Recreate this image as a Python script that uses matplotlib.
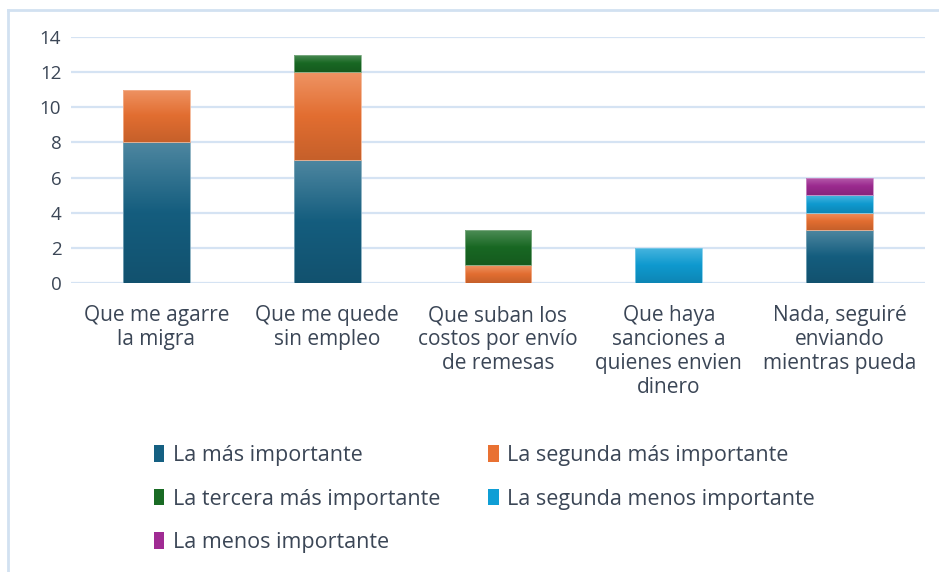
import numpy as np
import matplotlib.pyplot as plt
from matplotlib.colors import LinearSegmentedColormap, to_rgb
from matplotlib.patches import Patch
from matplotlib.lines import Line2D

plt.rcParams['font.family'] = ['Open Sans', 'DejaVu Sans']

# =========================
# data
# =========================
categories = [
    "Que me agarre\nla migra",
    "Que me quede\nsin empleo",
    "Que suban los\ncostos por envío\nde remesas",
    "Que haya\nsanciones a\nquienes envien\ndinero",
    "Nada, seguiré\nenviando\nmientras pueda",
]
series_names = [
    "La más importante",
    "La segunda más importante",
    "La tercera más importante",
    "La segunda menos importante",
    "La menos importante",
]
mas_importante = [8, 7, 0, 0, 3]
segunda_mas = [3, 5, 1, 0, 1]
tercera_mas = [0, 1, 2, 0, 0]
segunda_menos = [0, 0, 0, 2, 1]
menos_importante = [0, 0, 0, 0, 1]
yticks = [0, 2, 4, 6, 8, 10, 12, 14]

colors = ["#156082", "#E97132", "#196B24", "#0F9ED5", "#A02B93"]
TEXT = "#3B4656"


def mix(c, other, t):
    c = np.array(to_rgb(c))
    o = np.array(to_rgb(other))
    return tuple(c * (1 - t) + o * t)


def gradient_bar(ax, bar, color):
    x, y = bar.get_x(), bar.get_y()
    w, h = bar.get_width(), bar.get_height()
    if h <= 0:
        return
    cmap = LinearSegmentedColormap.from_list(
        "g", [mix(color, "black", 0.15), mix(color, "black", 0.03),
              mix(color, "white", 0.24)])
    grad = np.linspace(0, 1, 100).reshape(-1, 1)
    im = ax.imshow(grad, cmap=cmap, origin="lower", aspect="auto",
                   extent=(x, x + w, y, y + h), zorder=3)
    im.set_clip_path(bar)


# =========================
# plot
# =========================
fig = plt.figure(figsize=(9.39, 5.72), dpi=100)
ax = fig.add_axes([71 / 939, 1 - 283 / 572, 854 / 939, 246 / 572])

data = [mas_importante, segunda_mas, tercera_mas, segunda_menos, menos_importante]
x = np.arange(len(categories))
bottom = np.zeros(len(categories))
for vals, col in zip(data, colors):
    edges = [mix(col, "white", 0.45) if v > 0 else "none" for v in vals]
    bars = ax.bar(x, vals, width=0.39, bottom=bottom, color="none",
                  edgecolor=edges, linewidth=0.6, zorder=4)
    for b in bars:
        gradient_bar(ax, b, col)
    bottom += np.array(vals)

ax.set_xlim(-0.5, len(categories) - 0.5)
ax.set_ylim(0, 14)
ax.set_yticks(yticks)
ax.yaxis.grid(True, color="#D5E3F3", linewidth=1.6, zorder=0)
ax.set_axisbelow(True)
for s in ax.spines.values():
    s.set_visible(False)
ax.tick_params(axis="both", length=0, colors=TEXT)
ax.tick_params(axis="y", pad=7, labelsize=13.5)
ax.set_xticks(x)
ax.set_xticklabels(categories, fontsize=15, color=TEXT, linespacing=1.18)
ax.tick_params(axis="x", pad=16)

# legend in row order
handles = [Patch(facecolor=c, edgecolor="none") for c in colors]
order = [0, 2, 4, 1, 3]
leg = fig.legend([handles[i] for i in order], [series_names[i] for i in order],
                 loc="upper left", bbox_to_anchor=(0.143, 0.256), ncol=2,
                 frameon=False, fontsize=15.5, handlelength=0.5, handleheight=0.8,
                 handletextpad=0.4, labelspacing=1.05, columnspacing=2.2)
for t in leg.get_texts():
    t.set_color(TEXT)

# chart border (top and left visible)
fig.add_artist(Line2D([8 / 939, 1], [1 - 10 / 572, 1 - 10 / 572],
                      transform=fig.transFigure, color="#D2E1F1", linewidth=2))
fig.add_artist(Line2D([8 / 939, 8 / 939], [0, 1 - 10 / 572],
                      transform=fig.transFigure, color="#D2E1F1", linewidth=2))

fig.savefig("out.png", dpi=100)
